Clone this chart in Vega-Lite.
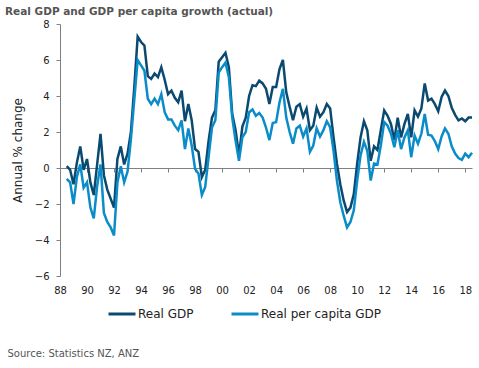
{
  "$schema": "https://vega.github.io/schema/vega-lite/v6.json",
  "width": 412,
  "height": 252,
  "autosize": "none",
  "padding": {"left": 60, "top": 24, "right": 7, "bottom": 92},
  "background": "white",
  "title": {
    "text": "Real GDP and GDP per capita growth (actual)",
    "anchor": "start",
    "frame": "group",
    "dx": -55,
    "dy": 15,
    "offset": 9,
    "baseline": "alphabetic",
    "font": "DejaVu Sans",
    "fontSize": 10.5,
    "fontWeight": "bold",
    "color": "#555555"
  },
  "data": {
    "values": [
      {"t": 1988.5, "gdp": 0.1, "pc": -0.6},
      {"t": 1988.75, "gdp": -0.1, "pc": -0.8},
      {"t": 1989, "gdp": -0.9, "pc": -2.0},
      {"t": 1989.25, "gdp": 0.3, "pc": -0.5},
      {"t": 1989.5, "gdp": 1.2, "pc": 0.2},
      {"t": 1989.75, "gdp": -0.1, "pc": -1.1},
      {"t": 1990, "gdp": 0.5, "pc": -0.8},
      {"t": 1990.25, "gdp": -0.8, "pc": -2.2},
      {"t": 1990.5, "gdp": -1.5, "pc": -2.8},
      {"t": 1990.75, "gdp": 0.2, "pc": -1.0},
      {"t": 1991, "gdp": 1.9, "pc": 0.2},
      {"t": 1991.25, "gdp": -0.4, "pc": -2.5},
      {"t": 1991.5, "gdp": -1.2, "pc": -3.0},
      {"t": 1991.75, "gdp": -1.7, "pc": -3.3},
      {"t": 1992, "gdp": -2.2, "pc": -3.75},
      {"t": 1992.25, "gdp": 0.5, "pc": -0.8},
      {"t": 1992.5, "gdp": 1.2, "pc": 0.1},
      {"t": 1992.75, "gdp": 0.2, "pc": -0.8},
      {"t": 1993, "gdp": 0.8, "pc": -0.2},
      {"t": 1993.25, "gdp": 2.0, "pc": 1.6},
      {"t": 1993.5, "gdp": 4.5, "pc": 3.8},
      {"t": 1993.75, "gdp": 7.3, "pc": 6.0},
      {"t": 1994, "gdp": 7.0, "pc": 5.7},
      {"t": 1994.25, "gdp": 6.8, "pc": 5.4},
      {"t": 1994.5, "gdp": 5.1, "pc": 3.85},
      {"t": 1994.75, "gdp": 4.95, "pc": 3.55},
      {"t": 1995, "gdp": 5.25, "pc": 3.85},
      {"t": 1995.25, "gdp": 5.05, "pc": 3.55},
      {"t": 1995.5, "gdp": 5.6, "pc": 4.1},
      {"t": 1995.75, "gdp": 4.9, "pc": 3.1},
      {"t": 1996, "gdp": 4.1, "pc": 2.7},
      {"t": 1996.25, "gdp": 4.3, "pc": 2.7},
      {"t": 1996.5, "gdp": 3.9, "pc": 2.35},
      {"t": 1996.75, "gdp": 3.65, "pc": 2.1},
      {"t": 1997, "gdp": 4.3, "pc": 2.65},
      {"t": 1997.25, "gdp": 2.6, "pc": 1.05},
      {"t": 1997.5, "gdp": 3.55, "pc": 2.2},
      {"t": 1997.75, "gdp": 2.65, "pc": 1.25},
      {"t": 1998, "gdp": 1.05, "pc": -0.05},
      {"t": 1998.25, "gdp": 0.9, "pc": -0.3},
      {"t": 1998.5, "gdp": -0.5, "pc": -1.5},
      {"t": 1998.75, "gdp": -0.1, "pc": -1.05},
      {"t": 1999, "gdp": 1.5, "pc": 0.6},
      {"t": 1999.25, "gdp": 2.8, "pc": 2.25},
      {"t": 1999.5, "gdp": 3.2, "pc": 2.65},
      {"t": 1999.75, "gdp": 5.9, "pc": 5.3},
      {"t": 2000, "gdp": 6.15, "pc": 5.6},
      {"t": 2000.25, "gdp": 6.4, "pc": 5.85},
      {"t": 2000.5, "gdp": 5.6, "pc": 5.05},
      {"t": 2000.75, "gdp": 3.0, "pc": 2.8},
      {"t": 2001, "gdp": 2.1, "pc": 1.5},
      {"t": 2001.25, "gdp": 0.7, "pc": 0.4},
      {"t": 2001.5, "gdp": 2.3, "pc": 1.7},
      {"t": 2001.75, "gdp": 2.8, "pc": 2.0},
      {"t": 2002, "gdp": 4.0, "pc": 3.1},
      {"t": 2002.25, "gdp": 4.6, "pc": 3.25},
      {"t": 2002.5, "gdp": 4.55, "pc": 2.9},
      {"t": 2002.75, "gdp": 4.85, "pc": 3.05},
      {"t": 2003, "gdp": 4.7, "pc": 2.8},
      {"t": 2003.25, "gdp": 4.4, "pc": 2.25},
      {"t": 2003.5, "gdp": 3.55, "pc": 1.55},
      {"t": 2003.75, "gdp": 4.5, "pc": 2.5},
      {"t": 2004, "gdp": 4.5, "pc": 2.55},
      {"t": 2004.25, "gdp": 5.5, "pc": 3.65},
      {"t": 2004.5, "gdp": 6.0, "pc": 4.4},
      {"t": 2004.75, "gdp": 4.2, "pc": 2.8},
      {"t": 2005, "gdp": 3.4, "pc": 2.0},
      {"t": 2005.25, "gdp": 2.65, "pc": 1.35},
      {"t": 2005.5, "gdp": 3.4, "pc": 2.2},
      {"t": 2005.75, "gdp": 3.55, "pc": 2.35},
      {"t": 2006, "gdp": 2.85, "pc": 1.75},
      {"t": 2006.25, "gdp": 3.3, "pc": 2.2},
      {"t": 2006.5, "gdp": 2.1, "pc": 0.9},
      {"t": 2006.75, "gdp": 2.35, "pc": 1.25},
      {"t": 2007, "gdp": 3.35, "pc": 2.2},
      {"t": 2007.25, "gdp": 2.85, "pc": 1.75},
      {"t": 2007.5, "gdp": 3.1, "pc": 2.1},
      {"t": 2007.75, "gdp": 3.55, "pc": 2.6},
      {"t": 2008, "gdp": 3.3, "pc": 2.25},
      {"t": 2008.25, "gdp": 1.7, "pc": 0.95},
      {"t": 2008.5, "gdp": 0.25, "pc": -0.7},
      {"t": 2008.75, "gdp": -0.9, "pc": -1.9},
      {"t": 2009, "gdp": -1.8, "pc": -2.65},
      {"t": 2009.25, "gdp": -2.45, "pc": -3.3},
      {"t": 2009.5, "gdp": -2.2, "pc": -3.0},
      {"t": 2009.75, "gdp": -1.45, "pc": -2.35},
      {"t": 2010, "gdp": 0.25, "pc": -0.7},
      {"t": 2010.25, "gdp": 1.7, "pc": 0.7},
      {"t": 2010.5, "gdp": 2.6, "pc": 1.45},
      {"t": 2010.75, "gdp": 2.1, "pc": 0.95},
      {"t": 2011, "gdp": 0.4, "pc": -0.7},
      {"t": 2011.25, "gdp": 1.2, "pc": 0.25},
      {"t": 2011.5, "gdp": 1.0, "pc": 0.2},
      {"t": 2011.75, "gdp": 2.1, "pc": 1.25},
      {"t": 2012, "gdp": 3.2, "pc": 2.55},
      {"t": 2012.25, "gdp": 2.9, "pc": 2.35},
      {"t": 2012.5, "gdp": 2.45, "pc": 1.9},
      {"t": 2012.75, "gdp": 1.55, "pc": 1.15},
      {"t": 2013, "gdp": 2.8, "pc": 2.1},
      {"t": 2013.25, "gdp": 1.7, "pc": 1.05},
      {"t": 2013.5, "gdp": 2.45, "pc": 1.7},
      {"t": 2013.75, "gdp": 3.0, "pc": 2.1},
      {"t": 2014, "gdp": 1.7, "pc": 0.6},
      {"t": 2014.25, "gdp": 3.2, "pc": 1.8},
      {"t": 2014.5, "gdp": 2.85, "pc": 1.35},
      {"t": 2014.75, "gdp": 3.3, "pc": 1.9},
      {"t": 2015, "gdp": 4.7, "pc": 3.0},
      {"t": 2015.25, "gdp": 3.75, "pc": 1.85},
      {"t": 2015.5, "gdp": 3.85, "pc": 1.8},
      {"t": 2015.75, "gdp": 3.55, "pc": 1.5},
      {"t": 2016, "gdp": 3.15, "pc": 1.05},
      {"t": 2016.25, "gdp": 3.95, "pc": 1.75},
      {"t": 2016.5, "gdp": 4.3, "pc": 2.2},
      {"t": 2016.75, "gdp": 4.0, "pc": 1.9},
      {"t": 2017, "gdp": 3.35, "pc": 1.2},
      {"t": 2017.25, "gdp": 2.95, "pc": 0.8},
      {"t": 2017.5, "gdp": 2.65, "pc": 0.55},
      {"t": 2017.75, "gdp": 2.75, "pc": 0.45},
      {"t": 2018, "gdp": 2.6, "pc": 0.8},
      {"t": 2018.25, "gdp": 2.8, "pc": 0.6},
      {"t": 2018.5, "gdp": 2.8, "pc": 0.85}
    ]
  },
  "transform": [{"fold": ["gdp", "pc"], "as": ["series", "value"]}],
  "mark": {"type": "line", "strokeWidth": 2.5},
  "encoding": {
    "x": {
      "field": "t",
      "type": "quantitative",
      "scale": {"domain": [1988, 2018.5], "nice": false, "zero": false},
      "axis": {
        "values": [1988, 1990, 1992, 1994, 1996, 1998, 2000, 2002, 2004, 2006, 2008, 2010, 2012, 2014, 2016, 2018],
        "labelExpr": "slice(toString(datum.value), 2)",
        "offset": -108,
        "grid": false,
        "domainColor": "#808080",
        "tickColor": "#808080",
        "tickSize": 4,
        "labelPadding": 113,
        "labelFont": "DejaVu Sans",
        "labelFontSize": 10,
        "labelColor": "#222222",
        "labelAlign": "center",
        "labelBaseline": "top",
        "title": "Source: Statistics NZ, ANZ",
        "titleX": -53,
        "titleY": 188,
        "titleAlign": "left",
        "titleAnchor": "start",
        "titleBaseline": "alphabetic",
        "titleFont": "DejaVu Sans",
        "titleFontSize": 10,
        "titleFontWeight": "normal",
        "titleColor": "#555555"
      }
    },
    "y": {
      "field": "value",
      "type": "quantitative",
      "scale": {"domain": [-6, 8], "nice": false},
      "axis": {
        "values": [-6, -4, -2, 0, 2, 4, 6, 8],
        "grid": false,
        "domainColor": "#808080",
        "tickColor": "#808080",
        "tickSize": 4,
        "labelPadding": 7,
        "labelFont": "DejaVu Sans",
        "labelFontSize": 10,
        "labelColor": "#222222",
        "title": "Annual % change",
        "titlePadding": 10,
        "titleFont": "DejaVu Sans",
        "titleFontSize": 12,
        "titleFontWeight": "normal",
        "titleColor": "#222222"
      }
    },
    "color": {
      "field": "series",
      "type": "nominal",
      "scale": {"domain": ["gdp", "pc"], "range": ["#0a4a70", "#0a8cc8"]},
      "legend": {
        "orient": "none",
        "legendX": 47,
        "legendY": 275,
        "direction": "horizontal",
        "title": null,
        "symbolType": "stroke",
        "symbolSize": 729,
        "symbolStrokeWidth": 3,
        "labelExpr": "datum.label == 'gdp' ? 'Real GDP' : 'Real per capita GDP'",
        "labelFont": "DejaVu Sans",
        "labelFontSize": 12,
        "labelColor": "#222222",
        "labelOffset": 1,
        "columnPadding": 31
      }
    }
  },
  "config": {"view": {"stroke": null}}
}
